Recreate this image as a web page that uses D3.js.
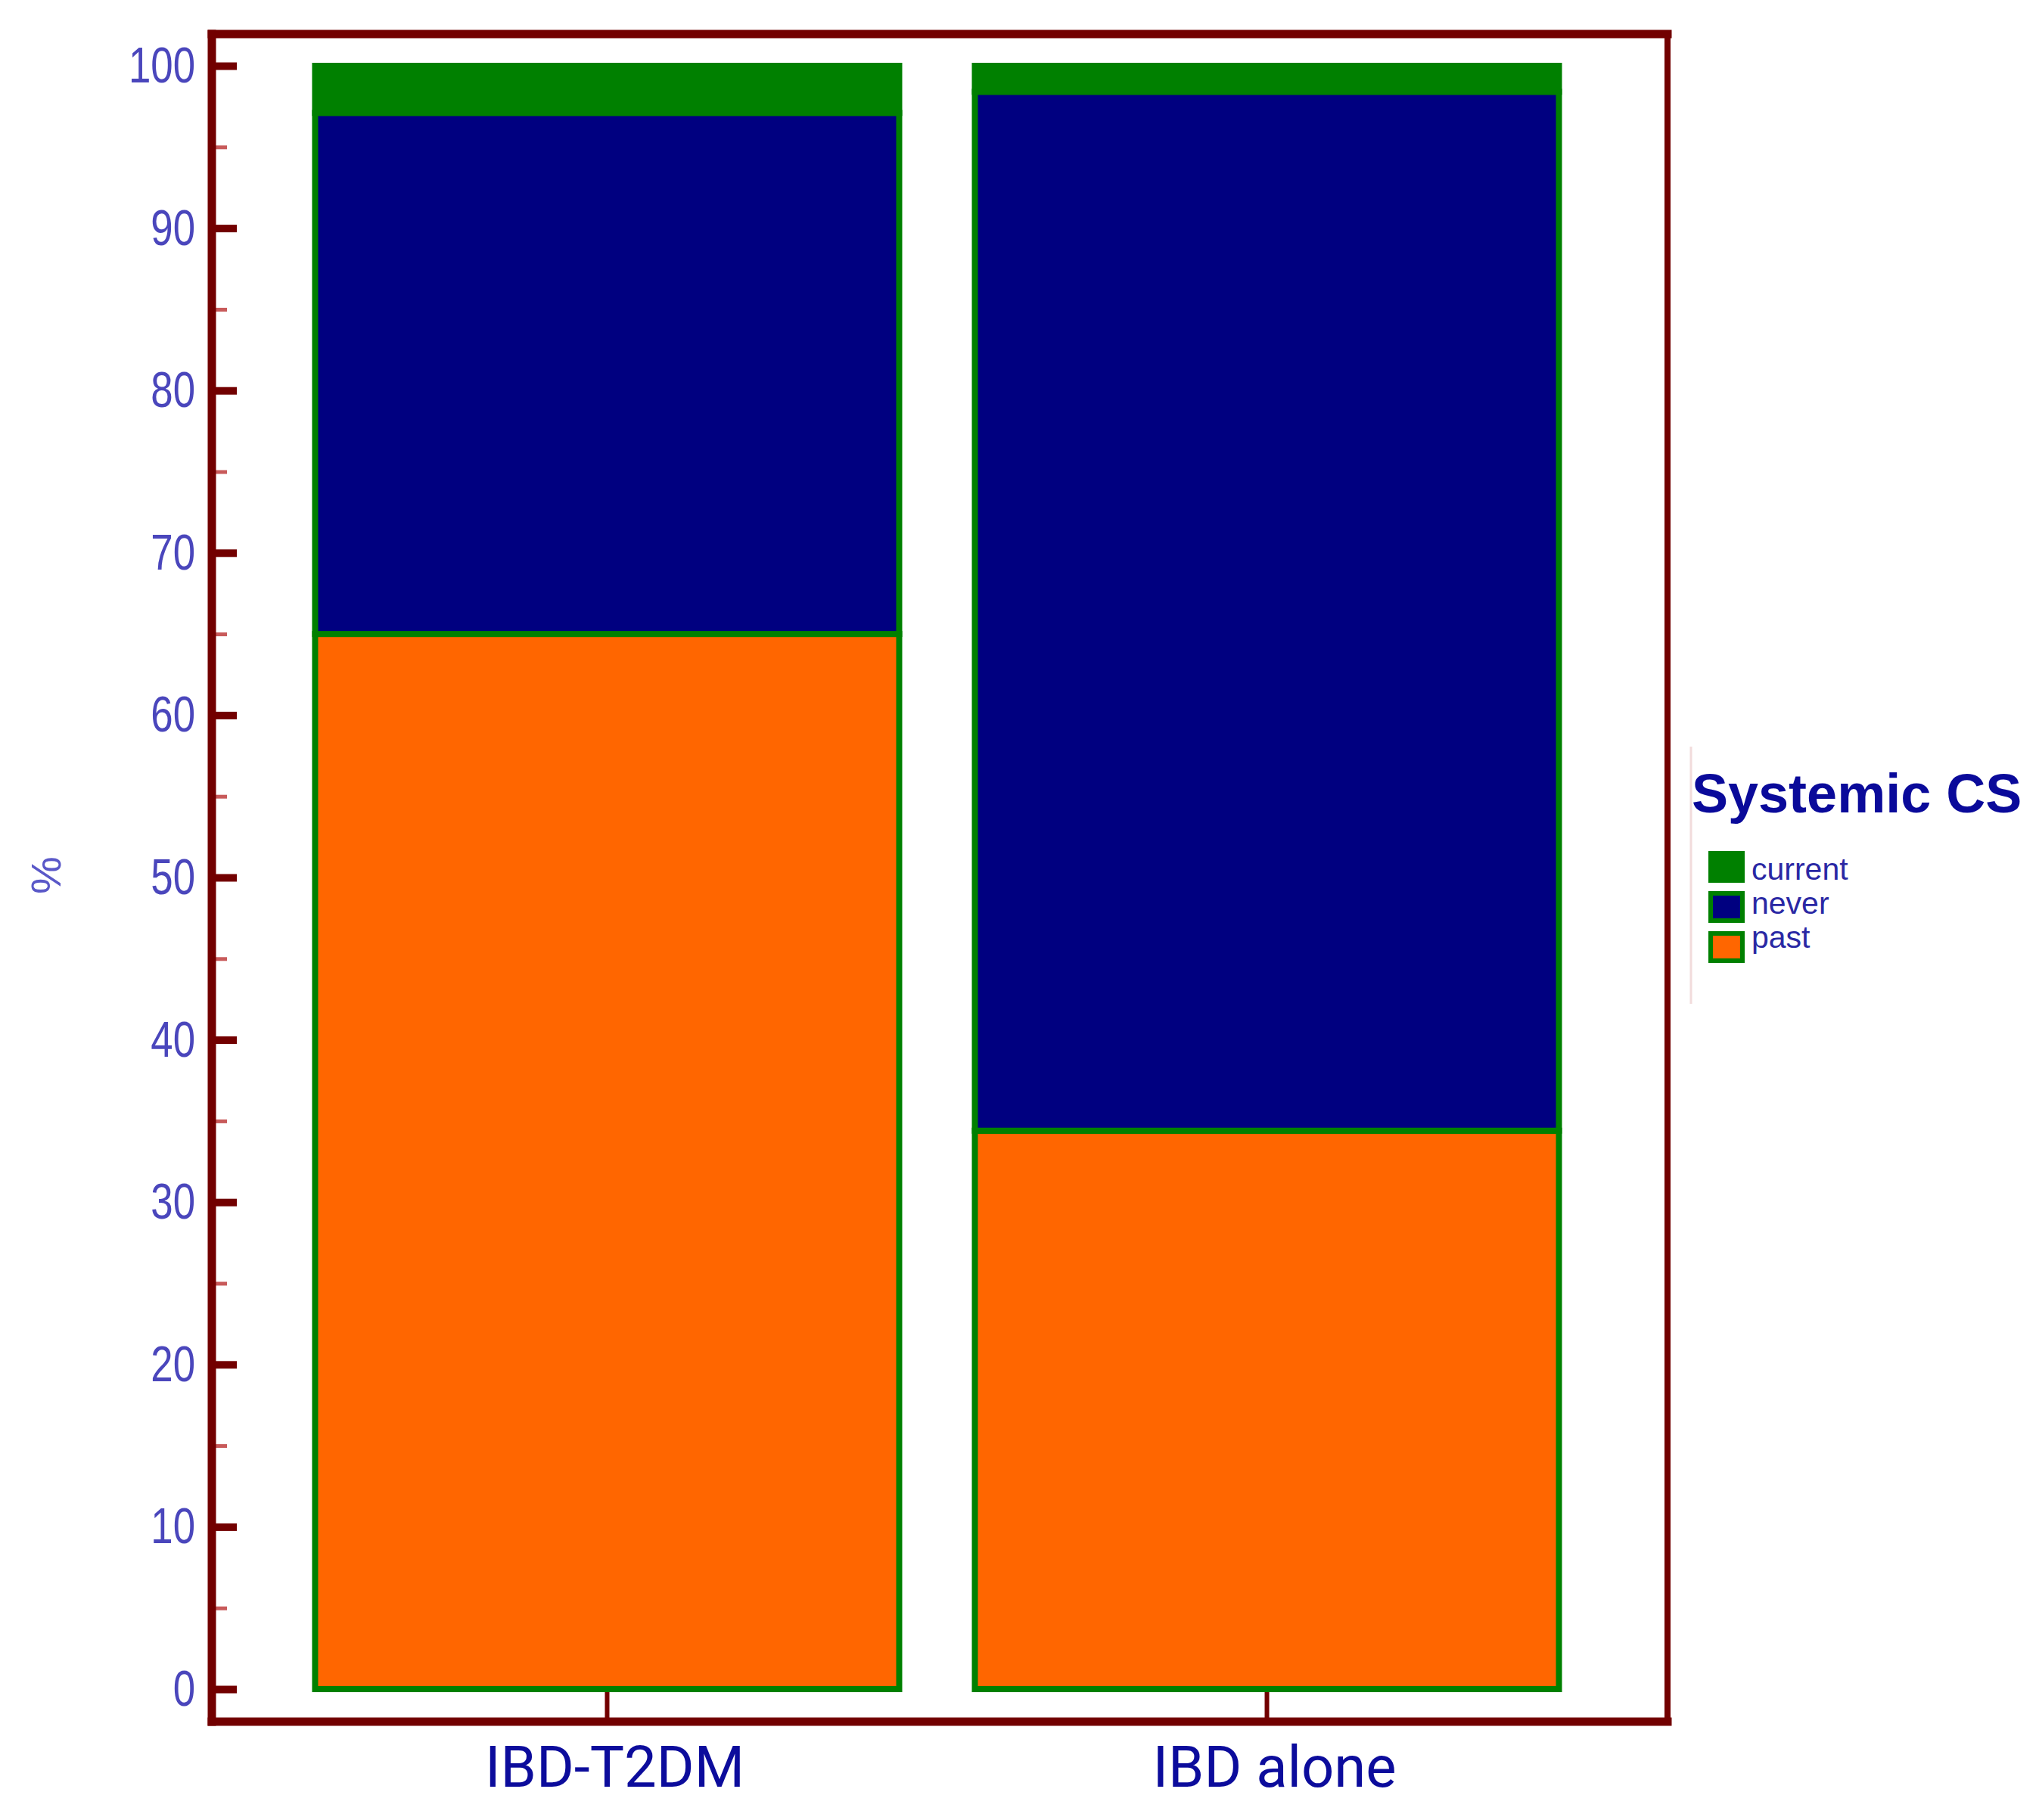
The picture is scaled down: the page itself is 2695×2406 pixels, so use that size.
<!DOCTYPE html>
<html>
<head>
<meta charset="utf-8">
<script src="https://cdn.jsdelivr.net/npm/d3@7/dist/d3.min.js"></script>
<style>
    body { margin: 0; background: #fff; }
    .ylab text { font-family: "Liberation Sans", Arial, sans-serif; }
</style>
</head>
<body>
<div id="chart"></div>
<script>
// data (percent of patients)
var groups = ["IBD-T2DM", "IBD alone"];
var statuses = ["past", "never", "current"];
var pastPct = [65, 34.4];
var neverPct = [32.1, 64];
var currentPct = [2.9, 1.6];
var yTicks = [0, 10, 20, 30, 40, 50, 60, 70, 80, 90, 100];
var yMinorTicks = [5, 15, 25, 35, 45, 55, 65, 75, 85, 95];
var legendTitle = "Systemic CS";
var legendKeys = ["current", "never", "past"];

var colors = { current: "#008000", never: "#000080", past: "#ff6600" };
var frameColor = "#720000";

function SystemicCS() {
    var width = 2695, height = 2406;

    var svg = d3.select("#chart")
        .append("svg")
        .attr("width", width)
        .attr("height", height);

    // scales
    var x = d3.scaleBand()
        .domain(groups)
        .range([366.5, 2110.5])
        .paddingInner(0.1147)
        .paddingOuter(0.0573);

    var y = d3.scaleLinear()
        .domain([0, 100])
        .range([2233, 87]);

    // rows for the stack
    var rows = groups.map(function (g, i) {
        return { group: g, past: pastPct[i], never: neverPct[i], current: currentPct[i] };
    });
    var series = d3.stack().keys(statuses)(rows);

    // bars
    svg.append("g")
        .selectAll("g")
        .data(series)
        .enter()
        .append("g")
        .attr("fill", function (s) { return colors[s.key]; })
        .selectAll("rect")
        .data(function (s) { return s; })
        .enter()
        .append("rect")
        .attr("x", function (d) { return x(d.data.group); })
        .attr("y", function (d) { return y(d[1]); })
        .attr("width", x.bandwidth())
        .attr("height", function (d) { return y(d[0]) - y(d[1]); })
        .attr("stroke", "#008000")
        .attr("stroke-width", 8);

    // x ticks under the bars
    var xAxis = svg.append("g")
        .attr("transform", "translate(0," + (y(0) + 4) + ")")
        .call(d3.axisBottom(x).tickSize(39).tickFormat(""));
    xAxis.select(".domain").remove();
    xAxis.selectAll("line").attr("stroke", frameColor).attr("stroke-width", 6);

    // x labels
    svg.append("g")
        .selectAll("text")
        .data(groups)
        .enter()
        .append("text")
        .attr("x", function (g) { return x(g) + x.bandwidth() / 2 + 10; })
        .attr("y", 2362)
        .attr("text-anchor", "middle")
        .style("font-family", "Roboto, 'Liberation Sans', sans-serif")
        .style("font-size", "76px")
        .style("fill", "#0c0c9c")
        .text(function (g) { return g; });

    // y minor ticks
    var yMinor = svg.append("g")
        .attr("transform", "translate(281,0)")
        .call(d3.axisRight(y).tickValues(yMinorTicks).tickSize(19).tickFormat(""));
    yMinor.select(".domain").remove();
    yMinor.selectAll("line").attr("stroke", "#c85a5a").attr("stroke-width", 5);

    // y major ticks
    var yMajor = svg.append("g")
        .attr("transform", "translate(281,0)")
        .call(d3.axisRight(y).tickValues(yTicks).tickSize(32).tickFormat(""));
    yMajor.select(".domain").remove();
    yMajor.selectAll("line").attr("stroke", frameColor).attr("stroke-width", 10);

    // y labels, squeezed sideways like the narrow font of the original
    var yLab = svg.append("g")
        .attr("class", "ylab")
        .attr("transform", "translate(258,0)")
        .call(d3.axisLeft(y).tickValues(yTicks).tickSize(0).tickPadding(0));
    yLab.select(".domain").remove();
    yLab.selectAll("text")
        .attr("x", 0)
        .attr("transform", "scale(0.8,1.02)")
        .style("font-size", "66px")
        .style("fill", "#4a46bc");

    // y title
    svg.append("text")
        .attr("transform", "translate(80,1157) rotate(-90)")
        .attr("text-anchor", "middle")
        .style("font-family", "'Liberation Sans', Arial, sans-serif")
        .style("font-size", "56px")
        .style("fill", "#5a58c8")
        .text("%");

    // frame
    var frame = svg.append("g").attr("stroke", frameColor).attr("stroke-linecap", "square");
    frame.append("line").attr("x1", 280).attr("y1", 45).attr("x2", 2204).attr("y2", 45).attr("stroke-width", 11);
    frame.append("line").attr("x1", 280).attr("y1", 45).attr("x2", 280).attr("y2", 2276).attr("stroke-width", 11);
    frame.append("line").attr("x1", 280).attr("y1", 2276).attr("x2", 2204).attr("y2", 2276).attr("stroke-width", 11);
    frame.append("line").attr("x1", 2204).attr("y1", 45).attr("x2", 2204).attr("y2", 2276).attr("stroke-width", 8);

    // legend
    var legend = svg.append("g");
    legend.append("line")
        .attr("x1", 2235).attr("y1", 987)
        .attr("x2", 2235).attr("y2", 1327)
        .attr("stroke", "#f2dcdc")
        .attr("stroke-width", 3);

    legend.append("text")
        .attr("x", 2236)
        .attr("y", 1074)
        .style("font-family", "'Liberation Sans', Arial, sans-serif")
        .style("font-weight", "bold")
        .style("font-size", "72px")
        .style("fill", "#0a0a9a")
        .text(legendTitle);

    var items = legend.selectAll(".item")
        .data(legendKeys)
        .enter()
        .append("g")
        .attr("class", "item");

    items.append("rect")
        .attr("x", 2261)
        .attr("y", function (k, i) { return 1128 + i * 53; })
        .attr("width", 42)
        .attr("height", 36)
        .attr("fill", function (k) { return colors[k]; })
        .attr("stroke", "#008000")
        .attr("stroke-width", 6);

    items.append("text")
        .attr("x", 2315)
        .attr("y", function (k, i) { return 1163 + i * 45; })
        .style("font-family", "'Liberation Sans', Arial, sans-serif")
        .style("font-size", "41px")
        .style("fill", "#2a28a4")
        .text(function (k) { return k; });
}

SystemicCS();
</script>
</body>
</html>
